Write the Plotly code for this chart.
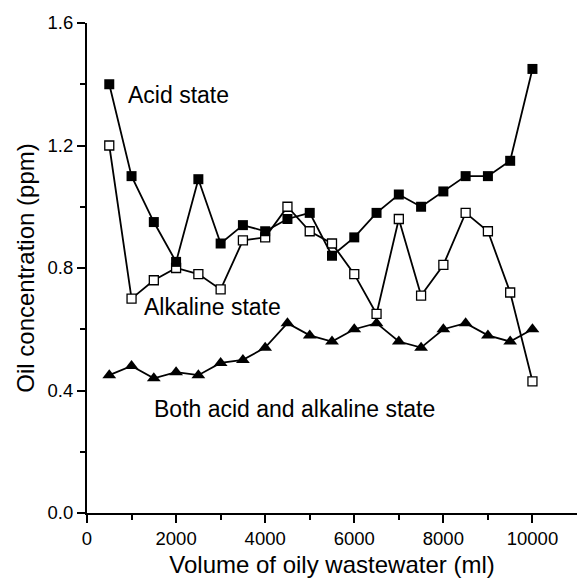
import plotly.graph_objects as go

volume = [500, 1000, 1500, 2000, 2500, 3000, 3500, 4000, 4500, 5000,
          5500, 6000, 6500, 7000, 7500, 8000, 8500, 9000, 9500, 10000]
acid = [1.40, 1.10, 0.95, 0.82, 1.09, 0.88, 0.94, 0.92, 0.96, 0.98,
        0.84, 0.90, 0.98, 1.04, 1.00, 1.05, 1.10, 1.10, 1.15, 1.45]
alkaline = [1.20, 0.70, 0.76, 0.80, 0.78, 0.73, 0.89, 0.90, 1.00, 0.92,
            0.88, 0.78, 0.65, 0.96, 0.71, 0.81, 0.98, 0.92, 0.72, 0.43]
both = [0.45, 0.48, 0.44, 0.46, 0.45, 0.49, 0.50, 0.54, 0.62, 0.58,
        0.56, 0.60, 0.62, 0.56, 0.54, 0.60, 0.62, 0.58, 0.56, 0.60]

labels = ["Acid state", "Alkaline state", "Both acid and alkaline state"]
label_x = [873, 1231, 1469]
label_y = [1.365, 0.672, 0.340]

x_ticks = [0, 2000, 4000, 6000, 8000, 10000]
x_ticktext = ["0", "2000", "4000", "6000", "8000", "10000"]
x_minor = [1000, 3000, 5000, 7000, 9000]
y_ticks = [0, 0.4, 0.8, 1.2, 1.6]
y_ticktext = ["0.0", "0.4", "0.8", "1.2", "1.6"]
y_minor = [0.2, 0.6, 1.0, 1.4]

fig = go.Figure()
fig.add_trace(go.Scatter(x=volume, y=both, mode="lines+markers",
                         line=dict(color="black", width=1.8),
                         marker=dict(symbol="triangle-up", size=12, color="black")))
fig.add_trace(go.Scatter(x=volume, y=alkaline, mode="lines+markers",
                         line=dict(color="black", width=1.8),
                         marker=dict(symbol="square", size=9, color="white",
                                     line=dict(color="black", width=1.3))))
fig.add_trace(go.Scatter(x=volume, y=acid, mode="lines+markers",
                         line=dict(color="black", width=1.8),
                         marker=dict(symbol="square", size=10, color="black")))

for t, x, y in zip(labels, label_x, label_y):
    fig.add_annotation(x=x, y=y, text=t, showarrow=False, xanchor="left",
                       yanchor="middle", font=dict(size=23, color="black"))

font = "Liberation Sans, Arial, sans-serif"
fig.update_layout(
    width=577, height=584,
    margin=dict(l=87, r=0, t=23, b=71),
    paper_bgcolor="white", plot_bgcolor="white",
    showlegend=False,
    font=dict(family=font, color="black", size=18),
    xaxis=dict(range=[0, 11000], tickvals=x_ticks, ticktext=x_ticktext,
               ticks="outside", ticklen=8, tickwidth=2, tickcolor="black",
               minor=dict(tickvals=x_minor, ticks="outside",
                          ticklen=5, tickwidth=2, tickcolor="black"),
               showline=True, linecolor="black", linewidth=2, showgrid=False,
               zeroline=False, tickfont=dict(size=18.5),
               title=dict(text="Volume of oily wastewater (ml)", font=dict(size=24), standoff=8)),
    yaxis=dict(range=[0, 1.6], tickvals=y_ticks, ticktext=y_ticktext,
               ticks="outside", ticklen=8, tickwidth=2, tickcolor="black",
               minor=dict(tickvals=y_minor, ticks="outside",
                          ticklen=5, tickwidth=2, tickcolor="black"),
               showline=True, linecolor="black", linewidth=2, showgrid=False,
               zeroline=False, tickfont=dict(size=18.5),
               title=dict(text="Oil concentration (ppm)", font=dict(size=24), standoff=6)),
)
fig.write_html("out.html")
